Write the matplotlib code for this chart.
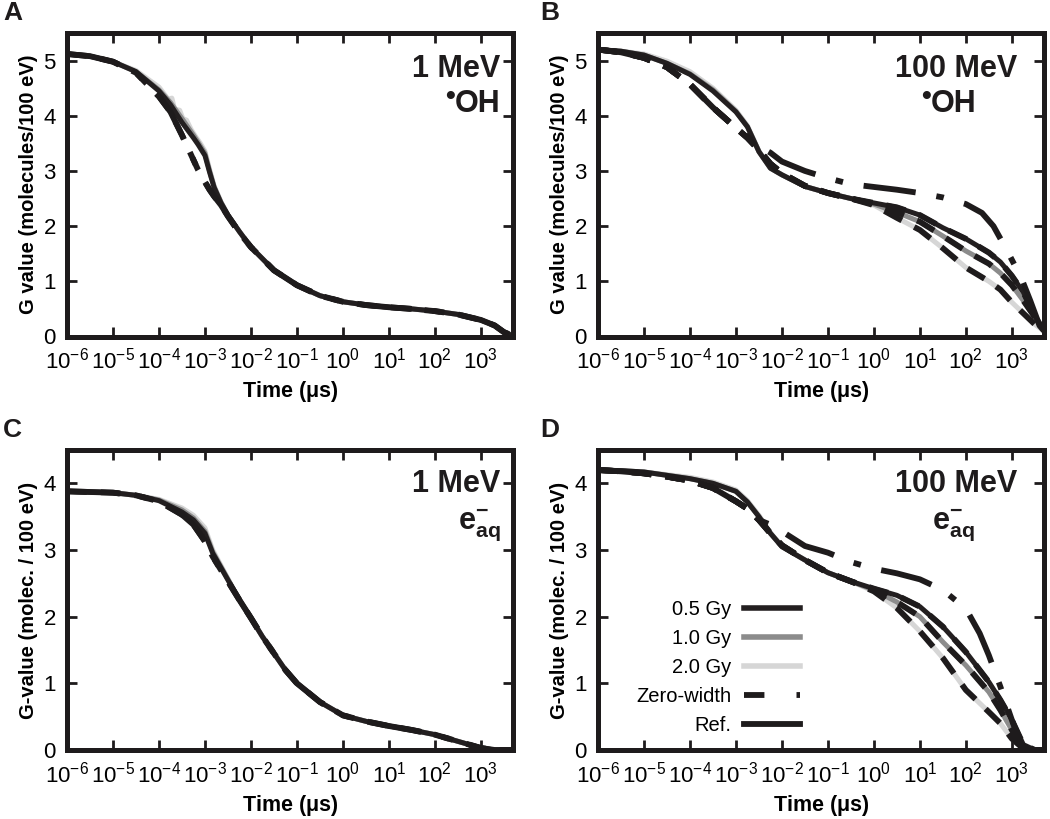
import numpy as np
import matplotlib
matplotlib.use("Agg")
import matplotlib.pyplot as plt
from matplotlib.ticker import LogLocator, NullLocator, MultipleLocator

plt.rcParams["font.family"] = ["Liberation Sans", "DejaVu Sans"]
plt.rcParams["mathtext.fontset"] = "custom"
plt.rcParams["mathtext.rm"] = "Liberation Sans"
plt.rcParams["mathtext.bf"] = "Liberation Sans:bold"
plt.rcParams["mathtext.it"] = "Liberation Sans:italic"

# ------------------------------------------------------------
# data (time given as log10 of microseconds)
# ------------------------------------------------------------

# panel A : 1 MeV, OH
A_logt = [-6, -5.5, -5, -4.5, -4, -3.75, -3.5, -3.25, -3.15, -3.0, -2.9, -2.8, -2.65,
          -2.5, -2.25, -2, -1.5, -1, -0.5, 0, 0.5, 1, 1.5, 2, 2.5, 3, 3.3, 3.5, 3.7]
A_05 = [5.12, 5.08, 4.98, 4.8, 4.45, 4.2, 3.88, 3.6, 3.48, 3.28, 2.98, 2.7, 2.42,
        2.2, 1.9, 1.62, 1.2, 0.93, 0.74, 0.63, 0.57, 0.53, 0.5, 0.46, 0.4, 0.3, 0.2,
        0.08, 0.01]
A_10 = [5.12, 5.08, 4.98, 4.8, 4.47, 4.24, 3.95, 3.65, 3.52, 3.32, 3.0, 2.71, 2.43,
        2.2, 1.9, 1.62, 1.2, 0.93, 0.74, 0.63, 0.57, 0.53, 0.5, 0.46, 0.4, 0.3, 0.2,
        0.08, 0.01]
A_20_logt = [-6, -5.5, -5, -4.5, -4, -3.8, -3.72, -3.66, -3.55, -3.48, -3.4, -3.3, -3.2,
             -3.1, -3.0, -2.9, -2.8, -2.65, -2.5, -2.25, -2, -1.5, -1, -0.5, 0, 0.5, 1,
             1.5, 2, 2.5, 3, 3.3, 3.5, 3.7]
A_20 = [5.12, 5.08, 4.98, 4.82, 4.52, 4.3, 4.32, 4.12, 4.1, 3.95, 3.92, 3.75, 3.62,
        3.5, 3.36, 3.03, 2.73, 2.44, 2.2, 1.9, 1.62, 1.2, 0.93, 0.74, 0.63, 0.57, 0.53,
        0.5, 0.46, 0.4, 0.3, 0.2, 0.08, 0.01]
A_ref = [5.12, 5.08, 4.98, 4.78, 4.35, 4.07, 3.65, 3.2, 3.02, 2.8, 2.66, 2.54, 2.38,
         2.18, 1.88, 1.62, 1.2, 0.93, 0.74, 0.63, 0.57, 0.53, 0.5, 0.46, 0.4, 0.3, 0.2,
         0.08, 0.01]

# panel B : 100 MeV, OH
B_logt = [-6, -5.5, -5, -4.5, -4, -3.5, -3, -2.75, -2.5, -2.25, -2, -1.5, -1, -0.5,
          0, 0.5, 1, 1.5, 2, 2.5, 2.75, 3, 3.25, 3.5, 3.7]
B_05 = [5.2, 5.17, 5.1, 4.95, 4.75, 4.45, 4.07, 3.8, 3.35, 3.05, 2.93, 2.72, 2.6, 2.5,
        2.42, 2.34, 2.2, 1.97, 1.77, 1.52, 1.35, 1.1, 0.8, 0.38, 0.12]
B_10 = [5.2, 5.17, 5.1, 4.95, 4.76, 4.47, 4.08, 3.8, 3.35, 3.05, 2.93, 2.72, 2.6, 2.5,
        2.4, 2.25, 2.08, 1.82, 1.55, 1.32, 1.15, 0.93, 0.65, 0.35, 0.12]
B_20 = [5.2, 5.17, 5.12, 4.99, 4.8, 4.5, 4.1, 3.82, 3.36, 3.05, 2.93, 2.72, 2.6, 2.5,
        2.38, 2.15, 1.93, 1.6, 1.25, 1.0, 0.85, 0.62, 0.42, 0.22, 0.1]
B_ref_head = [5.2, 5.15, 5.05, 4.88, 4.57, 4.15, 3.78, 3.6, 3.38, 3.13, 2.96, 2.73,
              2.6, 2.5]
B_zw_logt = [-6, -5.5, -5, -4.5, -4, -3.5, -3, -2.75, -2.5, -2.25, -2, -1.5, -1, -0.5,
             0, 0.5, 1, 1.5, 2, 2.35, 2.6, 2.9, 3.2, 3.4, 3.6, 3.7]
B_zw = [5.2, 5.15, 5.05, 4.88, 4.57, 4.15, 3.78, 3.62, 3.45, 3.33, 3.17, 3.0, 2.87,
        2.76, 2.71, 2.66, 2.6, 2.52, 2.4, 2.24, 2.0, 1.55, 1.07, 0.65, 0.2, 0.1]

# panel C : 1 MeV, e-aq
C_logt = [-6, -5.5, -5, -4.5, -4, -3.5, -3.25, -3, -2.83, -2.5, -2.25, -2, -1.75, -1.5,
          -1.25, -1, -0.5, 0, 0.5, 1, 1.5, 2, 2.5, 3, 3.3, 3.7]
C_05 = [3.88, 3.87, 3.86, 3.82, 3.74, 3.57, 3.45, 3.25, 2.95, 2.55, 2.25, 1.98, 1.7,
        1.45, 1.2, 1.0, 0.72, 0.52, 0.43, 0.36, 0.3, 0.23, 0.13, 0.03, 0.0, 0.0]
C_10 = [3.88, 3.87, 3.86, 3.82, 3.75, 3.6, 3.48, 3.28, 2.97, 2.56, 2.25, 1.98, 1.7,
        1.45, 1.2, 1.0, 0.72, 0.52, 0.43, 0.36, 0.3, 0.23, 0.13, 0.03, 0.0, 0.0]
C_20 = [3.88, 3.87, 3.86, 3.82, 3.76, 3.63, 3.52, 3.33, 3.0, 2.57, 2.25, 1.98, 1.7,
        1.45, 1.2, 1.0, 0.72, 0.52, 0.43, 0.36, 0.3, 0.23, 0.13, 0.03, 0.0, 0.0]
C_ref = [3.88, 3.87, 3.86, 3.82, 3.73, 3.53, 3.38, 3.13, 2.9, 2.53, 2.25, 1.98, 1.7,
         1.45, 1.2, 1.0, 0.72, 0.52, 0.43, 0.36, 0.3, 0.23, 0.13, 0.03, 0.0, 0.0]

# panel D : 100 MeV, e-aq
D_logt = B_logt
D_05 = [4.2, 4.19, 4.17, 4.12, 4.07, 4.0, 3.88, 3.72, 3.5, 3.25, 3.05, 2.85, 2.66, 2.53,
        2.42, 2.32, 2.15, 1.85, 1.47, 1.02, 0.75, 0.45, 0.08, 0.0, 0.0]
D_10 = [4.2, 4.19, 4.17, 4.12, 4.07, 4.0, 3.88, 3.72, 3.5, 3.25, 3.05, 2.85, 2.66, 2.53,
        2.4, 2.22, 2.0, 1.62, 1.27, 0.87, 0.6, 0.3, 0.03, 0.0, 0.0]
D_20 = [4.2, 4.19, 4.17, 4.13, 4.09, 4.02, 3.9, 3.74, 3.52, 3.26, 3.05, 2.85, 2.66, 2.53,
        2.38, 2.13, 1.78, 1.38, 0.9, 0.57, 0.4, 0.17, 0.02, 0.0, 0.0]
D_ref_head = [4.2, 4.18, 4.15, 4.1, 4.04, 3.93, 3.73, 3.62, 3.45, 3.25, 3.07, 2.85,
              2.66, 2.53]
D_zw_logt = [-6, -5.5, -5, -4.5, -4, -3.5, -3, -2.75, -2.5, -2.25, -2, -1.5, -1, -0.5,
             0, 0.5, 1, 1.5, 2, 2.3, 2.5, 2.75, 3, 3.2, 3.4, 3.7]
D_zw = [4.2, 4.18, 4.15, 4.1, 4.04, 3.93, 3.73, 3.62, 3.45, 3.38, 3.28, 3.06, 2.96, 2.82,
        2.72, 2.65, 2.56, 2.4, 2.12, 1.75, 1.42, 0.95, 0.45, 0.08, 0.0, 0.0]

dose_labels = ["0.5 Gy", "1.0 Gy", "2.0 Gy"]
dose_colors = ["#231f20", "#8c8c8c", "#d6d6d6"]
black = "#1e1b1c"

panels = {
    "A": dict(energy="1 MeV", species="OH", ylim=5.5,
              ylabel="G value (molecules/100 eV)",
              doses=[(A_logt, A_05), (A_logt, A_10), (A_20_logt, A_20)],
              refs=[(A_logt, A_ref)], zw=(A_logt, A_ref)),
    "B": dict(energy="100 MeV", species="OH", ylim=5.5,
              ylabel="G value (molecules/100 eV)",
              doses=[(B_logt, B_05), (B_logt, B_10), (B_logt, B_20)],
              refs=[(B_logt, B_ref_head + d[len(B_ref_head):]) for d in (B_05, B_10, B_20)],
              zw=(B_zw_logt, B_zw)),
    "C": dict(energy="1 MeV", species=r"$\mathbf{e}^{\mathbf{-}}_{\mathbf{aq}}$", ylim=4.5,
              ylabel="G-value (molec. / 100 eV)",
              doses=[(C_logt, C_05), (C_logt, C_10), (C_logt, C_20)],
              refs=[(C_logt, C_ref)], zw=(C_logt, C_ref)),
    "D": dict(energy="100 MeV", species=r"$\mathbf{e}^{\mathbf{-}}_{\mathbf{aq}}$", ylim=4.5,
              ylabel="G-value (molec. / 100 eV)",
              doses=[(D_logt, D_05), (D_logt, D_10), (D_logt, D_20)],
              refs=[(D_logt, D_ref_head + d[len(D_ref_head):]) for d in (D_05, D_10, D_20)],
              zw=(D_zw_logt, D_zw)),
}

# ------------------------------------------------------------
# figure
# ------------------------------------------------------------

W, H = 1050, 819
fig = plt.figure(figsize=(W / 100, H / 100), dpi=100)

boxes = {
    "A": (67, 33, 446, 303.5),
    "B": (598, 33, 446, 303.5),
    "C": (67, 450, 446, 300),
    "D": (598, 450, 446, 300),
}
letter_pos = {"A": (3, 13), "B": (540, 13), "C": (3, 430), "D": (540, 430)}

ref_dash = (3.4, 2.4)
zw_dash = (9, 3.6, 1.3, 3.6)

for key, p in panels.items():
    x0, y0, w, h = boxes[key]
    ax = fig.add_axes([x0 / W, 1 - (y0 + h) / H, w / W, h / H])

    for (lt, g), c, lab in zip(p["doses"][::-1], dose_colors[::-1], dose_labels[::-1]):
        ax.plot(10.0 ** np.array(lt), g, color=c, lw=3.6, solid_capstyle="butt", label=lab)

    for lt, g in p["refs"]:
        ax.plot(10.0 ** np.array(lt), g, color=black, lw=4.2, dashes=ref_dash,
                dash_capstyle="butt")

    lt, g = p["zw"]
    ax.plot(10.0 ** np.array(lt), g, color=black, lw=4.2, dashes=zw_dash,
            dash_capstyle="butt")

    ax.set_xscale("log")
    ax.set_xlim(1e-6, 5e3)
    ax.set_ylim(0, p["ylim"])
    ax.xaxis.set_major_locator(LogLocator(base=10, numticks=20))
    ax.xaxis.set_minor_locator(NullLocator())
    ax.yaxis.set_major_locator(MultipleLocator(1))

    for s in ax.spines.values():
        s.set_linewidth(3.6)
        s.set_color(black)
    ax.tick_params(which="both", direction="in", top=True, right=True, length=7,
                   width=2, color=black, labelsize=16)
    ax.tick_params(axis="x", pad=8)
    ax.tick_params(axis="y", pad=8)

    ax.set_xlabel(r"Time ($\mathregular{\mu}$s)", fontsize=15.5, fontweight="bold", labelpad=4)
    ax.set_ylabel(p["ylabel"], fontsize=14.5, fontweight="bold", labelpad=4)

    # energy / species annotation
    if key in "AC":
        ex, sx, sha = 0.972, 0.972, "right"
    else:
        ex, sx, sha = 0.94, 0.797, "center"
    ey = 0.88 if key in "AB" else 0.885
    sy = 0.765 if key in "AB" else 0.75
    ax.text(ex, ey, p["energy"], transform=ax.transAxes, ha="right", va="center",
            fontsize=22, fontweight="bold", color=black)
    sp = ax.text(sx, sy, p["species"], transform=ax.transAxes, ha=sha, va="center",
                 fontsize=22, fontweight="bold", color=black)
    if p["species"] == "OH":
        ax.annotate("\u2022", xy=(0, 1.0), xycoords=sp, ha="right", va="top",
                    fontsize=20, fontweight="bold", color=black,
                    xytext=(0, 4), textcoords="offset points")

    lx, ly = letter_pos[key]
    fig.text(lx / W, 1 - ly / H, key, fontsize=19, fontweight="bold", va="center",
             ha="left", color=black)

    if key == "D":
        handles = [
            plt.Line2D([], [], color=dose_colors[0], lw=4),
            plt.Line2D([], [], color=dose_colors[1], lw=4),
            plt.Line2D([], [], color=dose_colors[2], lw=4),
            plt.Line2D([], [], color=black, lw=4.2, dashes=(3.5, 5.5, 1.0, 5)),
            plt.Line2D([], [], color=black, lw=4.2),
        ]
        ax.legend(handles, dose_labels + ["Zero-width", "Ref."], loc="center",
                  bbox_to_anchor=(0.27, 0.275), frameon=False, markerfirst=False,
                  fontsize=14.5, handlelength=2.8, labelspacing=0.5, handletextpad=0.6)

fig.savefig("out.png", dpi=100)
